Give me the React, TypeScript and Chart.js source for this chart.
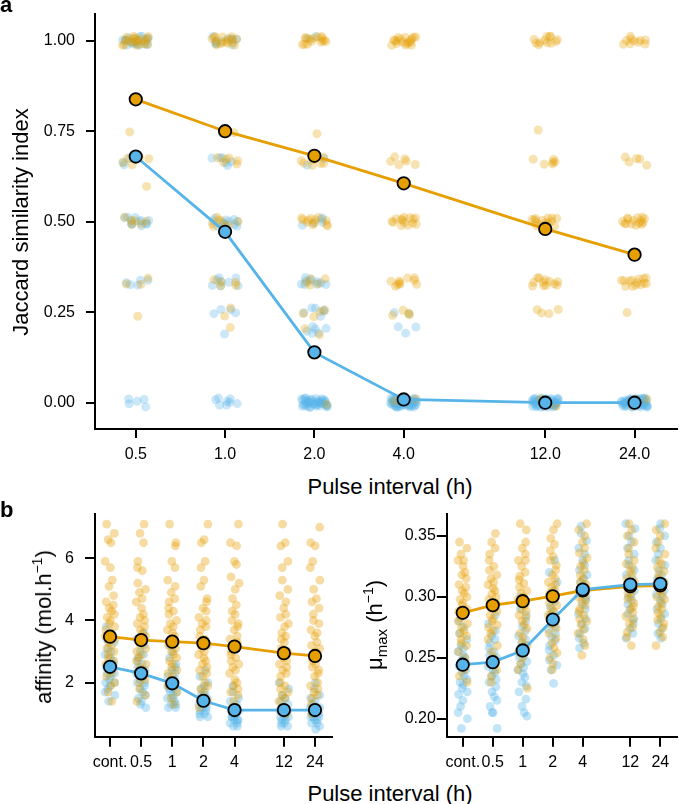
import React, { useEffect, useRef } from "react";
import { Chart, registerables } from "chart.js";
Chart.register(...registerables);

const FONT = '"Liberation Sans", Arial, Helvetica, sans-serif';
const ORANGE = "#E69F00";
const BLUE = "#56B4E9";

// ---------- panel a: Jaccard similarity ----------
const pulseIntervals = [0.5, 1, 2, 4, 12, 24];
const pulseTickLabels = ["0.5", "1.0", "2.0", "4.0", "12.0", "24.0"];
const jaccardTicks = [0, 0.25, 0.5, 0.75, 1];
const jaccardOrangeMean = [0.838, 0.75, 0.682, 0.606, 0.48, 0.409];
const jaccardBlueMean = [0.68, 0.472, 0.139, 0.009, 0, 0];
const jaccardLevels = [1, 0.75, 0.667, 0.6, 0.5, 0.333, 0.25, 0.2, 0];
// number of replicates observed at each level, one row per pulse interval
const jaccardOrangeCounts = [
  [20, 1, 5, 1, 6, 3, 1, 0, 0],
  [16, 2, 6, 0, 8, 5, 2, 1, 0],
  [15, 1, 8, 0, 12, 5, 4, 2, 1],
  [18, 0, 6, 0, 14, 10, 4, 0, 2],
  [12, 1, 6, 0, 15, 12, 4, 0, 2],
  [10, 0, 5, 0, 15, 14, 1, 0, 3],
];
const jaccardBlueCounts = [
  [20, 0, 4, 0, 12, 5, 0, 0, 5],
  [10, 0, 6, 0, 12, 8, 4, 1, 8],
  [2, 0, 2, 0, 5, 10, 6, 6, 40],
  [0, 0, 0, 0, 0, 0, 2, 3, 50],
  [0, 0, 0, 0, 0, 0, 0, 0, 50],
  [0, 0, 0, 0, 0, 0, 0, 0, 50],
];

// ---------- panel b: affinity & mu_max ----------
const bIntervals = [0.25, 0.5, 1, 2, 4, 12, 24];
const bTickLabels = ["cont.", "0.5", "1", "2", "4", "12", "24"];
const affinityTicks = [2, 4, 6];
const affinityOrangeMean = [3.48, 3.37, 3.32, 3.27, 3.16, 2.95, 2.86];
const affinityBlueMean = [2.51, 2.3, 1.98, 1.42, 1.12, 1.12, 1.12];
const affinityOrange = [
  [7.1, 6.8, 6.6, 6.5, 5.9, 5.7, 5.3, 5.1, 4.8, 4.6, 4.5, 4.4, 4.3, 4.2, 4.1, 4.0, 3.9, 3.8, 3.7, 3.6, 3.5, 3.5, 3.4, 3.3, 3.2, 3.1, 3.0, 2.9, 2.8, 2.7, 2.6, 2.5, 2.4, 2.3, 2.2, 2.0, 1.9, 1.7, 1.4],
  [7.1, 6.8, 6.5, 5.9, 5.7, 5.6, 5.2, 5.0, 4.9, 4.7, 4.6, 4.4, 4.2, 4.1, 4.0, 3.9, 3.8, 3.7, 3.6, 3.5, 3.4, 3.3, 3.2, 3.1, 3.0, 2.9, 2.8, 2.7, 2.6, 2.5, 2.4, 2.3, 2.1, 2.0, 1.8, 1.6, 1.4],
  [7.1, 6.5, 6.4, 5.9, 5.7, 5.3, 5.1, 4.9, 4.7, 4.6, 4.4, 4.3, 4.2, 4.0, 3.9, 3.8, 3.7, 3.6, 3.5, 3.4, 3.3, 3.2, 3.1, 3.0, 2.9, 2.8, 2.7, 2.6, 2.5, 2.4, 2.3, 2.2, 2.0, 1.9, 1.7, 1.5, 1.3],
  [7.1, 6.6, 6.5, 5.9, 5.7, 5.3, 5.1, 4.7, 4.6, 4.4, 4.3, 4.1, 4.0, 3.9, 3.8, 3.7, 3.5, 3.4, 3.3, 3.2, 3.1, 3.0, 2.9, 2.8, 2.7, 2.6, 2.5, 2.4, 2.3, 2.2, 2.0, 1.9, 1.8, 1.7, 1.5, 1.4, 1.2],
  [7.1, 6.5, 6.4, 5.9, 5.8, 5.4, 5.2, 5.0, 4.7, 4.5, 4.3, 4.2, 4.0, 3.9, 3.8, 3.7, 3.5, 3.4, 3.3, 3.2, 3.1, 3.0, 2.9, 2.8, 2.7, 2.6, 2.5, 2.4, 2.3, 2.1, 2.0, 1.9, 1.8, 1.7, 1.6, 1.4, 1.2],
  [7.1, 6.5, 6.4, 5.9, 5.7, 5.3, 5.0, 4.8, 4.6, 4.4, 4.2, 4.1, 3.9, 3.8, 3.6, 3.5, 3.4, 3.3, 3.1, 3.0, 2.9, 2.8, 2.7, 2.6, 2.5, 2.4, 2.3, 2.2, 2.0, 1.9, 1.8, 1.7, 1.6, 1.5, 1.4, 1.2, 1.0],
  [7.0, 6.5, 6.4, 5.9, 5.7, 5.3, 5.0, 4.7, 4.6, 4.4, 4.2, 4.0, 3.9, 3.7, 3.6, 3.5, 3.3, 3.2, 3.1, 3.0, 2.9, 2.8, 2.7, 2.6, 2.5, 2.4, 2.3, 2.2, 2.0, 1.9, 1.8, 1.7, 1.6, 1.5, 1.3, 1.2, 1.0],
];
const affinityBlue = [
  [3.8, 3.6, 3.4, 3.3, 3.1, 3.0, 2.9, 2.8, 2.7, 2.6, 2.6, 2.5, 2.5, 2.4, 2.4, 2.3, 2.3, 2.2, 2.1, 2.0, 2.0, 1.9, 1.8, 1.7, 1.6, 1.4],
  [3.6, 3.4, 3.2, 3.0, 2.9, 2.8, 2.7, 2.6, 2.5, 2.4, 2.4, 2.3, 2.3, 2.2, 2.2, 2.1, 2.0, 2.0, 1.9, 1.8, 1.7, 1.6, 1.5, 1.4, 1.3, 1.2],
  [3.2, 3.0, 2.8, 2.6, 2.5, 2.4, 2.3, 2.2, 2.1, 2.0, 2.0, 1.9, 1.9, 1.8, 1.8, 1.7, 1.7, 1.6, 1.5, 1.5, 1.4, 1.3, 1.3, 1.2, 1.2],
  [2.4, 2.2, 2.0, 1.9, 1.8, 1.7, 1.6, 1.6, 1.5, 1.5, 1.4, 1.4, 1.3, 1.3, 1.2, 1.2, 1.1, 1.1, 1.0, 1.0, 0.9, 0.9],
  [1.9, 1.7, 1.5, 1.4, 1.3, 1.2, 1.2, 1.1, 1.1, 1.0, 1.0, 1.0, 0.9, 0.9, 0.9, 0.8, 0.8, 0.8, 0.7, 0.7, 0.6, 0.6],
  [2.0, 1.8, 1.6, 1.5, 1.4, 1.3, 1.2, 1.2, 1.1, 1.1, 1.0, 1.0, 1.0, 0.9, 0.9, 0.9, 0.8, 0.8, 0.7, 0.7, 0.6, 0.6],
  [2.0, 1.8, 1.6, 1.5, 1.4, 1.3, 1.2, 1.2, 1.1, 1.1, 1.0, 1.0, 1.0, 0.9, 0.9, 0.9, 0.8, 0.8, 0.7, 0.7, 0.6, 0.5],
];

const muTicks = [0.2, 0.25, 0.3, 0.35];
const muOrangeMean = [0.2869, 0.2931, 0.2964, 0.3005, 0.3052, 0.3087, 0.3093];
const muBlueMean = [0.2443, 0.2464, 0.256, 0.2814, 0.306, 0.3101, 0.3107];
const muOrange = [
  [0.345, 0.34, 0.335, 0.33, 0.33, 0.325, 0.32, 0.318, 0.315, 0.31, 0.308, 0.305, 0.303, 0.3, 0.298, 0.295, 0.293, 0.29, 0.288, 0.285, 0.283, 0.28, 0.278, 0.275, 0.272, 0.27, 0.268, 0.265, 0.262, 0.26, 0.255, 0.25, 0.245, 0.24, 0.235, 0.23],
  [0.352, 0.345, 0.34, 0.335, 0.33, 0.325, 0.322, 0.318, 0.315, 0.312, 0.31, 0.307, 0.305, 0.302, 0.3, 0.298, 0.295, 0.292, 0.29, 0.288, 0.285, 0.282, 0.28, 0.277, 0.275, 0.272, 0.27, 0.265, 0.26, 0.255, 0.25, 0.245, 0.24, 0.235, 0.23],
  [0.36, 0.355, 0.345, 0.34, 0.335, 0.33, 0.33, 0.325, 0.32, 0.317, 0.314, 0.311, 0.308, 0.305, 0.303, 0.3, 0.298, 0.296, 0.293, 0.29, 0.288, 0.285, 0.283, 0.28, 0.277, 0.274, 0.27, 0.267, 0.263, 0.26, 0.255, 0.25, 0.245, 0.24, 0.225],
  [0.36, 0.355, 0.348, 0.343, 0.338, 0.333, 0.33, 0.326, 0.322, 0.318, 0.315, 0.312, 0.31, 0.308, 0.305, 0.303, 0.3, 0.298, 0.295, 0.293, 0.29, 0.288, 0.285, 0.282, 0.28, 0.277, 0.274, 0.27, 0.266, 0.262, 0.258, 0.254, 0.25, 0.245, 0.24],
  [0.36, 0.355, 0.35, 0.345, 0.34, 0.336, 0.332, 0.328, 0.325, 0.322, 0.318, 0.315, 0.312, 0.31, 0.307, 0.305, 0.303, 0.3, 0.298, 0.296, 0.293, 0.29, 0.288, 0.285, 0.282, 0.28, 0.277, 0.273, 0.27, 0.265, 0.26, 0.252],
  [0.36, 0.355, 0.35, 0.345, 0.34, 0.335, 0.33, 0.327, 0.324, 0.321, 0.318, 0.315, 0.312, 0.31, 0.308, 0.305, 0.303, 0.3, 0.298, 0.295, 0.292, 0.29, 0.287, 0.284, 0.281, 0.278, 0.275, 0.271, 0.267, 0.26],
  [0.36, 0.355, 0.35, 0.345, 0.34, 0.335, 0.33, 0.327, 0.324, 0.321, 0.318, 0.315, 0.312, 0.31, 0.308, 0.305, 0.303, 0.3, 0.298, 0.295, 0.292, 0.29, 0.287, 0.284, 0.281, 0.278, 0.275, 0.271, 0.267, 0.26],
];
const muBlue = [
  [0.28, 0.275, 0.27, 0.265, 0.26, 0.258, 0.255, 0.252, 0.25, 0.248, 0.245, 0.243, 0.24, 0.238, 0.235, 0.232, 0.23, 0.228, 0.225, 0.222, 0.22, 0.215, 0.21, 0.205, 0.2, 0.192],
  [0.285, 0.278, 0.272, 0.268, 0.265, 0.262, 0.258, 0.255, 0.252, 0.25, 0.248, 0.246, 0.243, 0.24, 0.238, 0.235, 0.232, 0.23, 0.226, 0.222, 0.218, 0.215, 0.21, 0.205, 0.205, 0.192],
  [0.3, 0.295, 0.29, 0.285, 0.28, 0.276, 0.272, 0.268, 0.265, 0.262, 0.26, 0.257, 0.254, 0.252, 0.25, 0.247, 0.245, 0.242, 0.24, 0.237, 0.234, 0.23, 0.227, 0.222, 0.216, 0.21, 0.205, 0.202],
  [0.33, 0.32, 0.312, 0.305, 0.3, 0.296, 0.292, 0.288, 0.285, 0.282, 0.28, 0.278, 0.276, 0.273, 0.27, 0.267, 0.264, 0.26, 0.256, 0.252, 0.248, 0.244, 0.24, 0.229],
  [0.358, 0.352, 0.346, 0.34, 0.335, 0.33, 0.326, 0.322, 0.318, 0.315, 0.312, 0.31, 0.307, 0.305, 0.302, 0.3, 0.297, 0.294, 0.29, 0.286, 0.282, 0.278, 0.274, 0.27, 0.266, 0.262, 0.258],
  [0.36, 0.356, 0.35, 0.345, 0.34, 0.335, 0.33, 0.326, 0.322, 0.318, 0.315, 0.312, 0.31, 0.308, 0.305, 0.302, 0.3, 0.297, 0.294, 0.29, 0.286, 0.282, 0.278, 0.274, 0.27, 0.266],
  [0.36, 0.356, 0.35, 0.345, 0.34, 0.335, 0.33, 0.326, 0.322, 0.318, 0.315, 0.312, 0.31, 0.308, 0.305, 0.302, 0.3, 0.297, 0.294, 0.29, 0.286, 0.282, 0.278, 0.274, 0.27, 0.266],
];

// fixed jitter table (presentation only)
const JIT = [0.62, -0.31, 0.88, -0.74, 0.15, -0.95, 0.47, -0.08, 0.79, -0.56, 0.23, -0.41, 0.97, -0.19, 0.54, -0.83, 0.06, -0.67, 0.35, -0.27, 0.71, -0.9, 0.42, -0.12, 0.86, -0.49, 0.28, -0.78, 0.58, -0.04, 0.93, -0.36, 0.11, -0.61, 0.67, -0.22, 0.39, -0.87, 0.19, -0.53, 0.81, -0.15, 0.49, -0.7, 0.02, -0.98, 0.74, -0.33, 0.31, -0.64, 0.91, -0.45, 0.08];

function expandCounts(levels: number[], rows: number[][]) {
  return rows.map((row) => {
    const out: number[] = [];
    row.forEach((n, k) => {
      for (let i = 0; i < n; i++) out.push(levels[k]);
    });
    return out;
  });
}

function jitterPoints(xs: number[], groups: number[][], wx: number, wy: number, seed: number) {
  const pts: { x: number; y: number }[] = [];
  groups.forEach((ys, g) => {
    ys.forEach((y, i) => {
      const jx = JIT[(i * 7 + g * 11 + seed) % JIT.length];
      const jy = JIT[(i * 13 + g * 5 + seed + 29) % JIT.length];
      pts.push({ x: xs[g] * Math.pow(2, jx * wx), y: y + jy * wy });
    });
  });
  return pts;
}

type PanelSpec = {
  xs: number[];
  xLabels: string[];
  xMin: number;
  xMax: number;
  yMin: number;
  yMax: number;
  yTicks: number[];
  yFmt: (v: number) => string;
  orange: number[][];
  blue: number[][];
  orangeMean: number[];
  blueMean: number[];
  wx: number;
  wy: number;
  r: number;
  alpha: number;
  yAxisWidth: number;
  xAxisHeight: number;
  padTop: number;
  padRight: number;
  yTickLen: number;
  yPad: number;
  xTickLen: number;
  xPad: number;
};

function buildConfig(p: PanelSpec): any {
  const meanDs = (vals: number[], color: string, order: number) => ({
    data: p.xs.map((x, i) => ({ x, y: vals[i] })),
    showLine: true,
    borderColor: color,
    borderWidth: 2.8,
    tension: 0,
    pointRadius: 6.2,
    pointBackgroundColor: color,
    pointBorderColor: "#000",
    pointBorderWidth: 1.8,
    order,
  });
  return {
    type: "scatter",
    data: {
      datasets: [
        {
          data: jitterPoints(p.xs, p.blue, p.wx, p.wy, 3),
          pointBackgroundColor: `rgba(86,180,233,${p.alpha})`,
          pointBorderWidth: 0,
          pointRadius: p.r,
          order: 4,
        },
        {
          data: jitterPoints(p.xs, p.orange, p.wx, p.wy, 17),
          pointBackgroundColor: `rgba(230,159,0,${p.alpha})`,
          pointBorderWidth: 0,
          pointRadius: p.r,
          order: 3,
        },
        meanDs(p.orangeMean, ORANGE, 2),
        meanDs(p.blueMean, BLUE, 1),
      ],
    },
    options: {
      responsive: false,
      animation: false,
      devicePixelRatio: 1,
      events: [],
      layout: { padding: { top: p.padTop, right: p.padRight, left: 0, bottom: 0 } },
      plugins: { legend: { display: false }, tooltip: { enabled: false }, title: { display: false } },
      scales: {
        x: {
          type: "logarithmic",
          min: p.xMin,
          max: p.xMax,
          border: { display: true, color: "#000", width: 2 },
          grid: { display: true, drawOnChartArea: false, drawTicks: true, tickLength: p.xTickLen, color: "#000", lineWidth: 2, tickWidth: 2 },
          ticks: {
            color: "#000",
            font: { family: FONT, size: 16 },
            padding: p.xPad,
            autoSkip: false,
            maxRotation: 0,
            minRotation: 0,
            callback: (v: number) => {
              const i = p.xs.findIndex((t) => Math.abs(t - v) < 1e-9);
              return i >= 0 ? p.xLabels[i] : "";
            },
          },
          afterBuildTicks: (s: any) => {
            s.ticks = p.xs.map((v) => ({ value: v }));
          },
          afterFit: (s: any) => {
            s.height = p.xAxisHeight;
            s.paddingLeft = 0;
            s.paddingRight = 0;
            s.paddingTop = 0;
            s.paddingBottom = 0;
          },
        },
        y: {
          type: "linear",
          min: p.yMin,
          max: p.yMax,
          border: { display: true, color: "#000", width: 2 },
          grid: { display: true, drawOnChartArea: false, drawTicks: true, tickLength: p.yTickLen, color: "#000", lineWidth: 2, tickWidth: 2 },
          ticks: {
            color: "#000",
            font: { family: FONT, size: 16 },
            padding: p.yPad,
            autoSkip: false,
            callback: (v: number) => p.yFmt(v),
          },
          afterBuildTicks: (s: any) => {
            s.ticks = p.yTicks.map((v) => ({ value: v }));
          },
          afterFit: (s: any) => {
            s.width = p.yAxisWidth;
            s.paddingLeft = 0;
            s.paddingRight = 0;
            s.paddingTop = 0;
            s.paddingBottom = 0;
          },
        },
      },
    },
  };
}

function ChartCanvas(props: { left: number; top: number; width: number; height: number; spec: PanelSpec }) {
  const ref = useRef<HTMLCanvasElement | null>(null);
  useEffect(() => {
    const chart = new Chart(ref.current as HTMLCanvasElement, buildConfig(props.spec));
    return () => chart.destroy();
  }, []);
  const { left, top, width, height } = props;
  return (
    <canvas
      ref={ref}
      width={width}
      height={height}
      style={{ position: "absolute", left, top, width, height, display: "block" }}
    />
  );
}

const baselineTop = (baseline: number, size: number) => baseline - 0.8465 * size;

function HText(props: { x: number; baseline: number; size?: number; bold?: boolean; align?: "left" | "center"; children: any }) {
  const size = props.size || 22;
  return (
    <div
      style={{
        position: "absolute",
        left: props.x,
        top: baselineTop(props.baseline, size),
        transform: props.align === "left" ? "none" : "translateX(-50%)",
        fontSize: size,
        lineHeight: `${size}px`,
        fontWeight: props.bold ? 700 : 400,
        whiteSpace: "nowrap",
        color: "#000",
      }}
    >
      {props.children}
    </div>
  );
}

function VText(props: { cx: number; cy: number; size?: number; children: any }) {
  const size = props.size || 22;
  return (
    <div
      style={{
        position: "absolute",
        left: props.cx,
        top: props.cy,
        transform: "translate(-50%, -50%) rotate(-90deg)",
        fontSize: size,
        lineHeight: `${size}px`,
        whiteSpace: "nowrap",
        color: "#000",
      }}
    >
      {props.children}
    </div>
  );
}

const Sup = ({ children }: any) => (
  <span style={{ fontSize: 14, position: "relative", top: -9 }}>{children}</span>
);
const Sub = ({ children }: any) => (
  <span style={{ fontSize: 15, position: "relative", top: 5 }}>{children}</span>
);

const topSpec: PanelSpec = {
  xs: pulseIntervals,
  xLabels: pulseTickLabels,
  xMin: 0.3644,
  xMax: 33.36,
  yMin: -0.0727,
  yMax: 1.0738,
  yTicks: jaccardTicks,
  yFmt: (v) => v.toFixed(2),
  orange: expandCounts(jaccardLevels, jaccardOrangeCounts),
  blue: expandCounts(jaccardLevels, jaccardBlueCounts),
  orangeMean: jaccardOrangeMean,
  blueMean: jaccardBlueMean,
  wx: 0.15,
  wy: 0.013,
  r: 4.5,
  alpha: 0.3,
  yAxisWidth: 95,
  xAxisHeight: 41,
  padTop: 14,
  padRight: 0,
  yTickLen: 9,
  yPad: 11,
  xTickLen: 9,
  xPad: 7,
};

const affinitySpec: PanelSpec = {
  xs: bIntervals,
  xLabels: bTickLabels,
  xMin: 0.179,
  xMax: 34.8,
  yMin: 0.244,
  yMax: 7.424,
  yTicks: affinityTicks,
  yFmt: (v) => String(Math.round(v)),
  orange: affinityOrange,
  blue: affinityBlue,
  orangeMean: affinityOrangeMean,
  blueMean: affinityBlueMean,
  wx: 0.16,
  wy: 0,
  r: 4.4,
  alpha: 0.36,
  yAxisWidth: 95,
  xAxisHeight: 42.7,
  padTop: 14,
  padRight: 8.3,
  yTickLen: 10,
  yPad: 11,
  xTickLen: 9.5,
  xPad: 6,
};

const muSpec: PanelSpec = {
  xs: bIntervals,
  xLabels: bTickLabels,
  xMin: 0.175,
  xMax: 35.3,
  yMin: 0.1847,
  yMax: 0.368,
  yTicks: muTicks,
  yFmt: (v) => v.toFixed(2),
  orange: muOrange,
  blue: muBlue,
  orangeMean: muOrangeMean,
  blueMean: muBlueMean,
  wx: 0.16,
  wy: 0,
  r: 4.4,
  alpha: 0.36,
  yAxisWidth: 107.3,
  xAxisHeight: 42.7,
  padTop: 14,
  padRight: 0,
  yTickLen: 10.5,
  yPad: 1,
  xTickLen: 9.5,
  xPad: 6,
};

export default function App() {
  return (
    <div
      style={{
        position: "absolute",
        left: 0,
        top: 0,
        width: 685,
        height: 804,
        overflow: "hidden",
        background: "#fff",
        fontFamily: FONT,
      }}
    >
      <ChartCanvas left={0} top={0} width={685} height={470} spec={topSpec} />
      <ChartCanvas left={0} top={500} width={340} height={280} spec={affinitySpec} />
      <ChartCanvas left={340} top={500} width={345} height={280} spec={muSpec} />

      <HText x={0} baseline={13} bold align="left">a</HText>
      <HText x={0} baseline={518} bold align="left">b</HText>

      <VText cx={21} cy={221.5}>Jaccard similarity index</VText>
      <HText x={390} baseline={495}>Pulse interval (h)</HText>

      <VText cx={45} cy={627}>
        affinity (mol.h<Sup>−1</Sup>)
      </VText>
      <VText cx={376} cy={625}>
        μ<Sub>max</Sub> (h<Sup>−1</Sup>)
      </VText>
      <HText x={390} baseline={802}>Pulse interval (h)</HText>
    </div>
  );
}
